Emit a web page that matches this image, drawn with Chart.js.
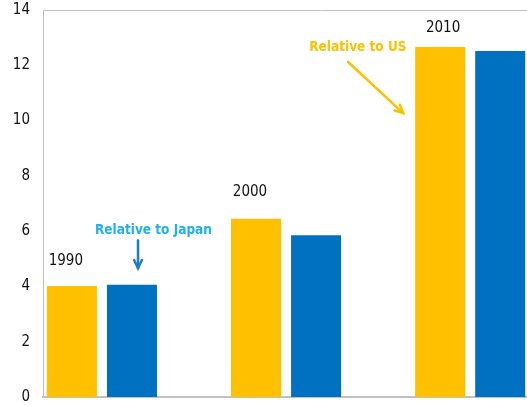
<!DOCTYPE html>
<html>
<head>
<meta charset="utf-8">
<script src="https://cdn.jsdelivr.net/npm/chart.js@4"></script>
<style>
  html, body { margin: 0; padding: 0; background: #fff; overflow: hidden; }
  #wrap { width: 600px; height: 406px; }
</style>
</head>
<body>
<div id="wrap"><canvas id="barChart" width="600" height="406"></canvas></div>
<script>
// values
const years = [1990, 2000, 2010]
const relUS = [4.02, 6.45, 12.66]
const relJapan = [4.06, 5.85, 12.52]
const yTicks = [0, 2, 4, 6, 8, 10, 12, 14]

// free text on the plot, in data coordinates
const noteTexts = ['1990', '2000', '2010', 'Relative to US', 'Relative to Japan']
const noteX = [1988.04, 1998.04, 2008.53, 2003.9, 1992.8]
const noteY = [4.92, 7.42, 13.35, 12.63, 6.01]
const noteColors = ['#111', '#111', '#111', '#FFC000', '#1FB0EE']
const noteBold = [false, false, false, true, true]

// arrows: from -> to, data coordinates
const arrowFrom = [[2003.37, 12.12], [1991.96, 5.66]]
const arrowTo = [[2006.36, 10.27], [1991.96, 4.66]]
const arrowColors = ['#FFC000', '#1F7DC4']

const FONT = "'DejaVu Sans Condensed', 'DejaVu Sans', sans-serif"

const notesPlugin = {
    id: 'notes',
    afterDatasetsDraw(chart) {
        const ctx = chart.ctx
        const xs = chart.scales.x
        const ys = chart.scales.y
        const area = chart.chartArea
        ctx.save()
        // top frame line
        ctx.strokeStyle = '#c0c0c0'
        ctx.lineWidth = 1
        ctx.beginPath()
        ctx.moveTo(area.left, Math.round(area.top) + 0.5)
        ctx.lineTo(area.right, Math.round(area.top) + 0.5)
        ctx.stroke()

        ctx.textAlign = 'center'
        ctx.textBaseline = 'middle'
        noteTexts.forEach((t, i) => {
            ctx.font = noteBold[i] ? 'bold 13.5px ' + FONT : '15px ' + FONT
            ctx.fillStyle = noteColors[i]
            ctx.fillText(t, xs.getPixelForValue(noteX[i]), ys.getPixelForValue(noteY[i]))
        })

        arrowFrom.forEach((f, i) => {
            const x1 = xs.getPixelForValue(f[0]), y1 = ys.getPixelForValue(f[1])
            const x2 = xs.getPixelForValue(arrowTo[i][0]), y2 = ys.getPixelForValue(arrowTo[i][1])
            const ang = Math.atan2(y2 - y1, x2 - x1)
            ctx.strokeStyle = arrowColors[i]
            ctx.lineWidth = 2.5
            ctx.lineCap = 'round'
            ctx.beginPath()
            ctx.moveTo(x1, y1)
            ctx.lineTo(x2, y2)
            ctx.stroke()
            const h = 9
            ctx.beginPath()
            ctx.moveTo(x2 - h * Math.cos(ang - 0.45), y2 - h * Math.sin(ang - 0.45))
            ctx.lineTo(x2, y2)
            ctx.lineTo(x2 - h * Math.cos(ang + 0.45), y2 - h * Math.sin(ang + 0.45))
            ctx.stroke()
        })
        ctx.restore()
    }
}

const ctl = document.getElementById('barChart')
window.newChart = new Chart(ctl, {
    type: 'bar',
    data: {
        datasets: [
            {
                label: 'Relative to US',
                data: years.map((yr, i) => ({x: yr, y: relUS[i]})),
                backgroundColor: '#FFC000'
            },
            {
                label: 'Relative to Japan',
                data: years.map((yr, i) => ({x: yr, y: relJapan[i]})),
                backgroundColor: '#0070C0'
            }
        ]
    },
    options: {
        responsive: false,
        animation: false,
        categoryPercentage: 120 / 184,
        barPercentage: 50 / 60,
        layout: {
            padding: {top: 10, right: 0, left: 0, bottom: 0}
        },
        plugins: {
            legend: {display: false},
            tooltip: {enabled: false}
        },
        scales: {
            x: {
                type: 'linear',
                offset: false,
                min: 1986.8,
                max: 2017.05,
                afterBuildTicks: (scale) => { scale.ticks = years.map(v => ({value: v})) },
                afterFit: (scale) => {
                    scale.height = 9
                    scale.paddingLeft = 0
                    scale.paddingRight = 0
                },
                grid: {display: false, drawTicks: false},
                ticks: {display: false},
                border: {display: true, color: '#c0c0c0', width: 2}
            },
            y: {
                min: 0,
                max: 14,
                afterBuildTicks: (scale) => { scale.ticks = yTicks.map(v => ({value: v})) },
                afterFit: (scale) => {
                    scale.width = 43
                    scale.paddingTop = 0
                    scale.paddingBottom = 0
                },
                grid: {display: false, drawTicks: false},
                border: {display: true, color: '#c0c0c0', width: 1},
                ticks: {
                    padding: 13,
                    color: '#111',
                    font: {family: FONT, size: 15}
                }
            }
        }
    },
    plugins: [notesPlugin]
})
</script>
</body>
</html>
